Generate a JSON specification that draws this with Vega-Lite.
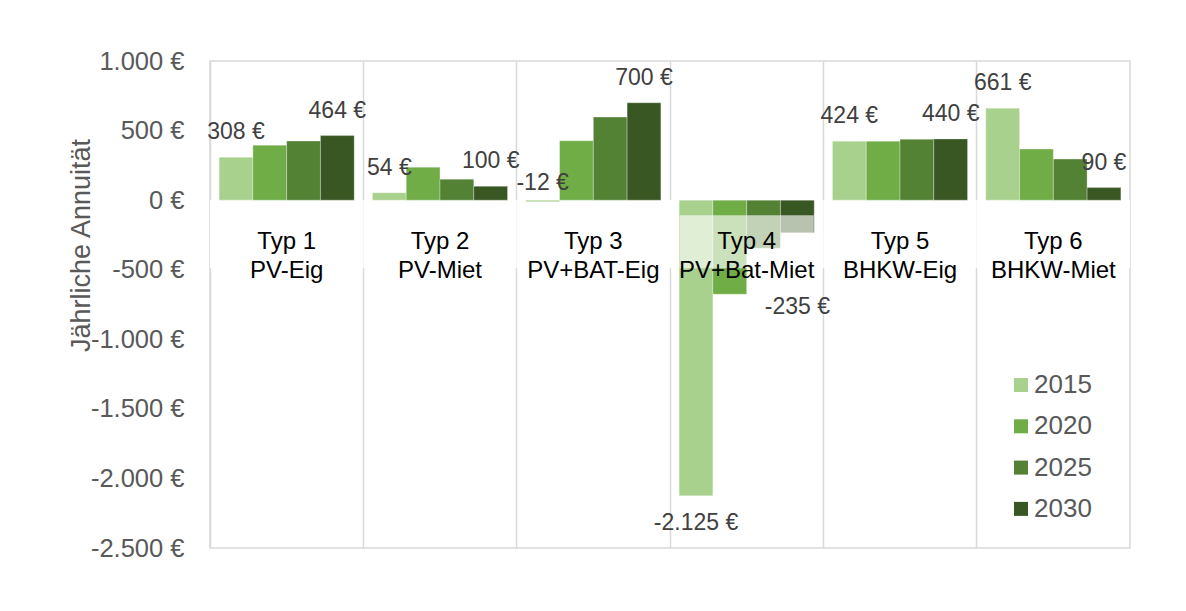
{
  "$schema": "https://vega.github.io/schema/vega-lite/v6.json",
  "width": 920,
  "height": 487,
  "autosize": {"type": "none"},
  "padding": {"left": 210, "top": 61, "right": 56, "bottom": 63},
  "background": "white",
  "config": {
    "font": "Liberation Sans",
    "locale": {"number": {"decimal": ",", "thousands": ".", "grouping": [3], "currency": ["", " €"], "minus": "-"}},
    "view": {"stroke": "#d9d9d9", "strokeWidth": 1.5}
  },
  "datasets": {
    "bars": [
      {"cat": "Typ 1", "year": "2015", "value": 308},
      {"cat": "Typ 1", "year": "2020", "value": 395},
      {"cat": "Typ 1", "year": "2025", "value": 425},
      {"cat": "Typ 1", "year": "2030", "value": 464},
      {"cat": "Typ 2", "year": "2015", "value": 54},
      {"cat": "Typ 2", "year": "2020", "value": 237},
      {"cat": "Typ 2", "year": "2025", "value": 151},
      {"cat": "Typ 2", "year": "2030", "value": 100},
      {"cat": "Typ 3", "year": "2015", "value": -12},
      {"cat": "Typ 3", "year": "2020", "value": 427},
      {"cat": "Typ 3", "year": "2025", "value": 597},
      {"cat": "Typ 3", "year": "2030", "value": 700},
      {"cat": "Typ 4", "year": "2015", "value": -2125},
      {"cat": "Typ 4", "year": "2020", "value": -676},
      {"cat": "Typ 4", "year": "2025", "value": -345},
      {"cat": "Typ 4", "year": "2030", "value": -235},
      {"cat": "Typ 5", "year": "2015", "value": 424},
      {"cat": "Typ 5", "year": "2020", "value": 424},
      {"cat": "Typ 5", "year": "2025", "value": 438},
      {"cat": "Typ 5", "year": "2030", "value": 440},
      {"cat": "Typ 6", "year": "2015", "value": 661},
      {"cat": "Typ 6", "year": "2020", "value": 367},
      {"cat": "Typ 6", "year": "2025", "value": 295},
      {"cat": "Typ 6", "year": "2030", "value": 90}
    ],
    "cats": [
      {"cat": "Typ 1", "label": ["Typ 1", "PV-Eig"]},
      {"cat": "Typ 2", "label": ["Typ 2", "PV-Miet"]},
      {"cat": "Typ 3", "label": ["Typ 3", "PV+BAT-Eig"]},
      {"cat": "Typ 4", "label": ["Typ 4", "PV+Bat-Miet"]},
      {"cat": "Typ 5", "label": ["Typ 5", "BHKW-Eig"]},
      {"cat": "Typ 6", "label": ["Typ 6", "BHKW-Miet"]}
    ]
  },
  "encoding": {
    "x": {
      "field": "cat", "type": "nominal",
      "scale": {"domain": ["Typ 1", "Typ 2", "Typ 3", "Typ 4", "Typ 5", "Typ 6"], "paddingInner": 0, "paddingOuter": 0},
      "axis": {"title": null, "labels": false, "ticks": false, "domain": false, "grid": true, "bandPosition": 0, "gridColor": "#d9d9d9", "gridWidth": 1.5}
    }
  },
  "layer": [
    {
      "data": {"name": "cats"},
      "mark": {"type": "bar", "color": "white", "opacity": 1},
      "encoding": {
        "y": {"datum": 0},
        "y2": {"datum": -489}
      }
    },
    {
      "data": {"name": "bars"},
      "mark": {"type": "bar", "stroke": "white", "strokeWidth": 0.6, "strokeOpacity": 0.5},
      "encoding": {
        "xOffset": {"field": "year", "type": "nominal", "scale": {"paddingInner": 0, "paddingOuter": 0.27}},
        "y": {
          "field": "value", "type": "quantitative",
          "scale": {"domain": [-2500, 1000], "nice": false, "zero": false},
          "axis": {
            "title": "Jährliche Annuität",
            "values": [-2500, -2000, -1500, -1000, -500, 0, 500, 1000],
            "format": "$,.0f",
            "domain": false, "ticks": false,
            "gridColor": "#d9d9d9",
            "gridWidth": 1.5,
            "labelFontSize": 25.5, "labelColor": "#595959", "labelPadding": 26,
            "titleFontSize": 27, "titleColor": "#595959", "titleFontWeight": "normal",
            "titleX": -129, "titleY": 184, "titleBaseline": "middle", "titleAlign": "center"
          }
        },
        "color": {
          "field": "year", "type": "nominal",
          "scale": {"domain": ["2015", "2020", "2025", "2030"], "range": ["#a9d18e", "#70ad47", "#548235", "#385723"]},
          "legend": {
            "title": null, "orient": "none", "legendX": 798, "legendY": 311,
            "symbolType": "square", "symbolSize": 196, "symbolStrokeWidth": 0,
            "labelFontSize": 26, "labelColor": "#595959", "labelOffset": 0,
            "rowPadding": 15.3, "padding": 0
          }
        }
      }
    },
    {
      "data": {"name": "bars"},
      "transform": [{"filter": "(datum.year === '2015' || datum.year === '2030') && datum.value >= 0"}],
      "mark": {"type": "text", "fontSize": 23, "color": "#404040", "baseline": "middle", "dy": -25},
      "encoding": {
        "xOffset": {"field": "year", "type": "nominal"},
        "y": {"field": "value", "type": "quantitative"},
        "text": {"field": "value", "type": "quantitative", "format": "$,.0f"}
      }
    },
    {
      "data": {"name": "bars"},
      "transform": [{"filter": "(datum.year === '2015' || datum.year === '2030') && datum.value < 0 && datum.value > -50"}],
      "mark": {"type": "text", "fontSize": 23, "color": "#404040", "baseline": "middle", "dy": -19},
      "encoding": {
        "xOffset": {"field": "year", "type": "nominal"},
        "y": {"field": "value", "type": "quantitative"},
        "text": {"field": "value", "type": "quantitative", "format": "$,.0f"}
      }
    },
    {
      "data": {"name": "bars"},
      "transform": [{"filter": "datum.year === '2015' && datum.value <= -50"}],
      "mark": {"type": "text", "fontSize": 23, "color": "#404040", "baseline": "middle", "dy": 27},
      "encoding": {
        "xOffset": {"field": "year", "type": "nominal"},
        "y": {"field": "value", "type": "quantitative"},
        "text": {"field": "value", "type": "quantitative", "format": "$,.0f"}
      }
    },
    {
      "data": {"name": "bars"},
      "transform": [{"filter": "datum.year === '2030' && datum.value <= -50"}],
      "mark": {"type": "text", "fontSize": 23, "color": "#404040", "baseline": "middle", "dy": 74},
      "encoding": {
        "xOffset": {"field": "year", "type": "nominal"},
        "y": {"field": "value", "type": "quantitative"},
        "text": {"field": "value", "type": "quantitative", "format": "$,.0f"}
      }
    },
    {
      "data": {"name": "cats"},
      "mark": {"type": "bar", "color": "white", "opacity": 0.64, "width": {"band": 0.875}},
      "encoding": {
        "y": {"datum": -108},
        "y2": {"datum": -489}
      }
    },
    {
      "data": {"name": "cats"},
      "mark": {"type": "text", "fontSize": 24, "color": "#000000", "baseline": "middle", "lineHeight": 29, "dy": 42},
      "encoding": {
        "y": {"datum": 0},
        "text": {"field": "label"}
      }
    }
  ]
}
